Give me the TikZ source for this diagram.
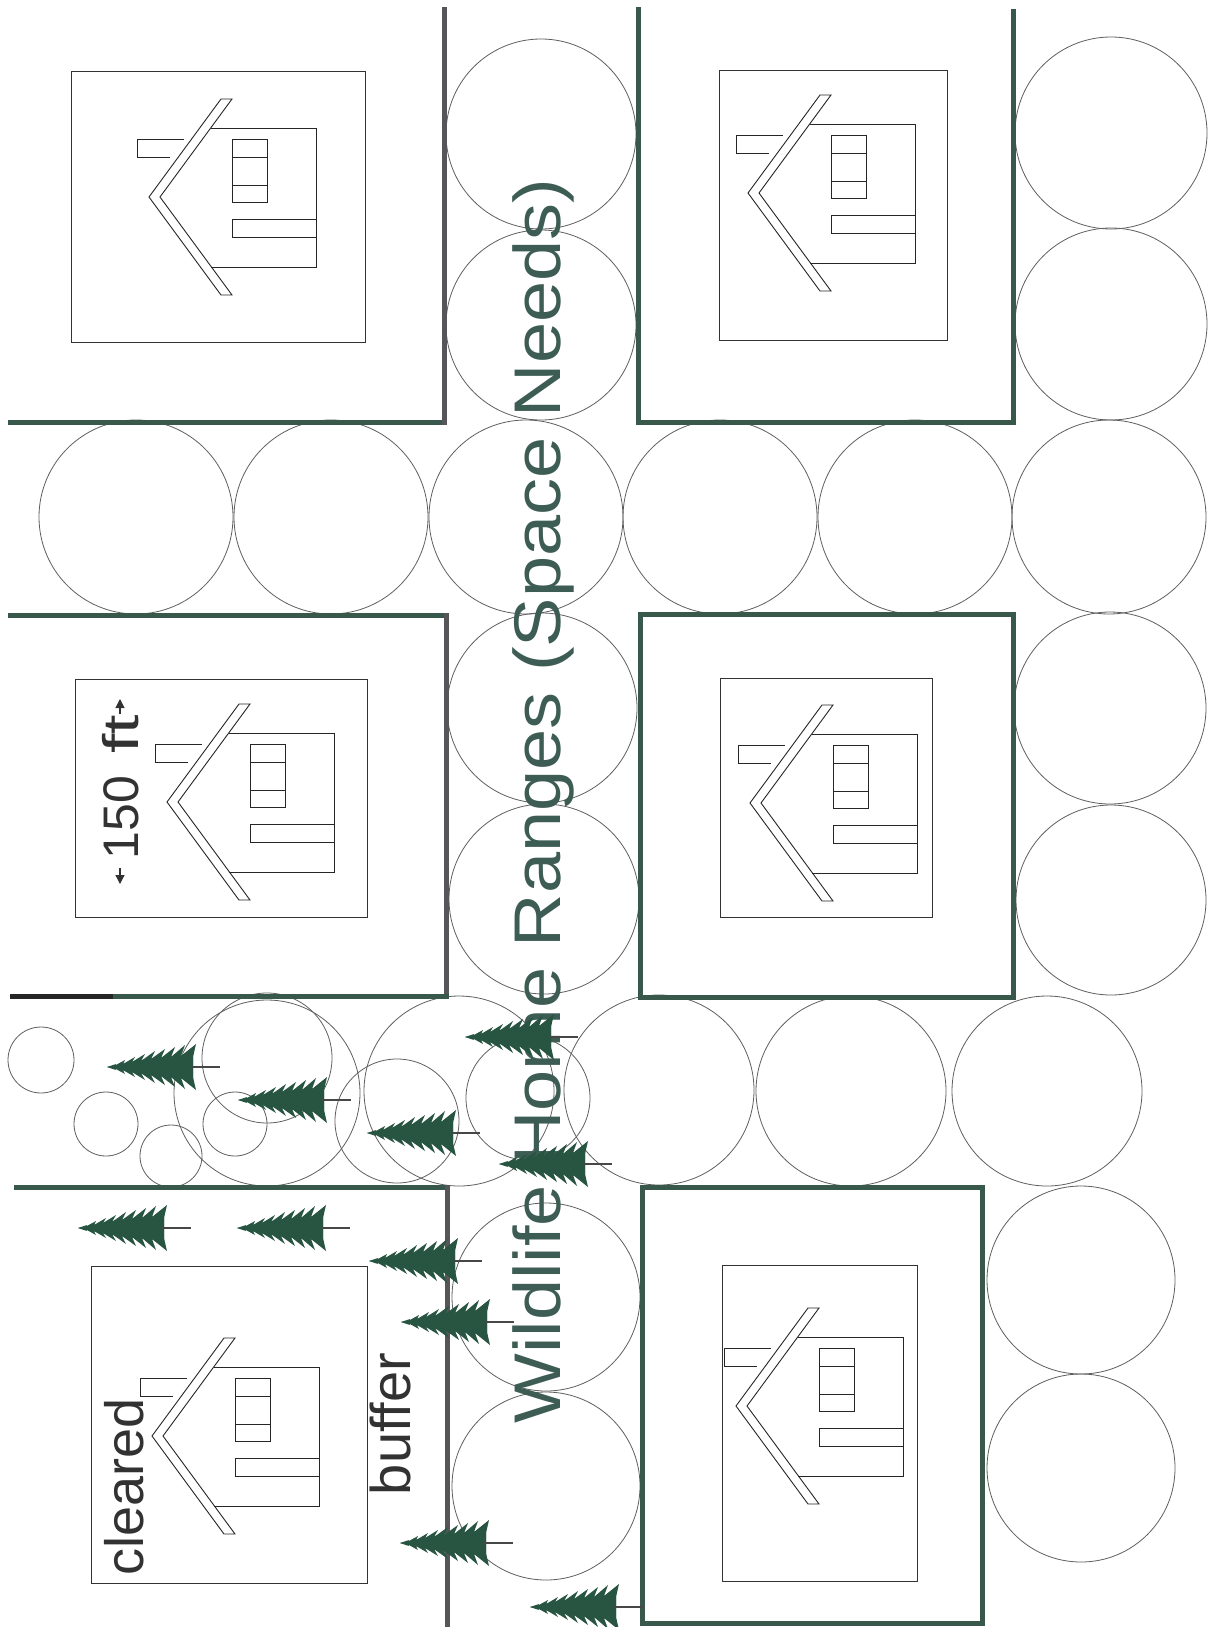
\documentclass[tikz,border=0pt]{standalone}
\usepackage{fontspec}
\setmainfont{Liberation Sans}
\usetikzlibrary{arrows.meta}

\definecolor{wallgreen}{RGB}{56,88,76}
\definecolor{wallgray}{RGB}{86,86,90}
\definecolor{firgreen}{RGB}{40,84,66}
\definecolor{trunkgray}{RGB}{70,72,72}
\definecolor{titlegreen}{RGB}{60,92,84}
\definecolor{rangegray}{RGB}{95,95,95}
\definecolor{labelgray}{RGB}{50,50,50}

\tikzset{
  lotwall/.style={draw=wallgreen, line width=5pt, line cap=rect, line join=miter},
  lotwallside/.style={lotwall, draw=wallgray},
  homerange/.style={draw=rangegray, line width=0.8pt},
  lotline/.style={draw=black!80, line width=0.9pt},
  housepart/.style={draw=black!85, line width=0.9pt, line join=miter},
  lotlabel/.style={text=labelgray, inner sep=0pt, rotate=90, anchor=base},
  headline/.style={text=titlegreen, inner sep=0pt, rotate=90, xscale=1.12, anchor=base,
    font=\fontsize{66}{70}\selectfont},
  dimtip/.style={-{Triangle[length=9pt,width=9pt]}, line width=1.2pt, draw=labelgray, fill=labelgray},
  % house seen from above: origin at the outer corner of the roof
  pics/house/.style={code={
    \draw[housepart] (72,-98) -- (0,0) -- (72,98) -- (83,98) -- (11,0) -- (83,-98) -- cycle;
    \draw[housepart] (61.7,-69) -- (167,-69) -- (167,70) -- (62.4,70);
    \draw[housepart] (34.6,-58) -- (-12,-58) -- (-12,-40) -- (21.4,-40);
    \draw[housepart] (83,-58) rectangle (118,5);
    \draw[housepart] (83,-40) -- (118,-40) (83,-12) -- (118,-12);
    \draw[housepart] (167,22) -- (83,22) -- (83,40) -- (167,40);
  }},
  % fir lying on its side, tip at the origin, trunk to the right
  pics/fir/.style={code={
    \fill[firgreen] (0,0) -- (9,-3) -- (8,-1.5) -- (18,-7) -- (16,-3) -- (28,-10)
      -- (25,-5) -- (38,-13) -- (34,-6) -- (48,-16) -- (44,-8) -- (58,-18)
      -- (54,-9) -- (68,-20) -- (64,-10) -- (78,-22) -- (74,-11) -- (89,-23) -- (86,-10)
      -- (86,10) -- (89,23) -- (74,11) -- (78,22) -- (64,10) -- (68,20) -- (54,9)
      -- (58,18) -- (44,8) -- (48,16) -- (34,6) -- (38,13) -- (25,5) -- (28,10)
      -- (16,3) -- (18,7) -- (8,1.5) -- (9,3) -- cycle;
    \fill[firgreen] (0,0) -- (40,-8) -- (86,-12) -- (86,12) -- (40,8) -- cycle;
    \draw[trunkgray, line width=2.5pt] (84,0) -- (113,0);
  }},
}

\begin{document}
\begin{tikzpicture}[x=1pt, y=-1pt]
\fill[white] (0,0) rectangle (1216,1627);
\useasboundingbox (0,0) rectangle (1216,1627);

% home ranges
\foreach \cx/\cy/\r in {
  541/134/95, 541/325/95,
  136/517/97, 331/517/97, 526/517/97, 720/517/97, 915/517/97, 1109/517/97,
  1111/133/96, 1111/324/96, 1110/708/96, 1111/900/95,
  542/708/95, 544/899/95,
  659/1090/95, 851/1091/95, 1047/1091/95,
  546/1297/94, 546/1486/94, 1081/1280/94, 1081/1468/94,
  41/1060/33, 106/1124/32, 171/1156/31, 235/1124/32,
  267/1093/93, 267/1058/65, 397/1121/62, 459/1091/95, 528/1098/62}
  \draw[homerange] (\cx,\cy) circle[radius=\r pt];

% cleared lots
\draw[lotline] (71,71) rectangle (365,342);
\draw[lotline] (719,70) rectangle (947,340);
\draw[lotline] (75,679) rectangle (367,917);
\draw[lotline] (720,678) rectangle (932,917);
\draw[lotline] (91,1266) rectangle (367,1583);
\draw[lotline] (722,1265) rectangle (917,1581);

% houses
\pic at (149,197) {house};
\pic at (748,193) {house};
\pic at (167,802) {house};
\pic at (750,803) {house};
\pic at (152,1436) {house};
\pic at (736,1406) {house};

% buffer boundaries
\draw[lotwall] (10,422) -- (444,422);
\draw[lotwallside] (444,10) -- (444,422);
\draw[lotwall] (638,10) -- (638,422) -- (1013,422) -- (1013,12);
\draw[lotwall] (10,615) -- (446,615);
\draw[lotwallside] (446,615) -- (446,996);
\draw[lotwall] (446,996) -- (12,996);
\draw[line width=5pt, black!85, line cap=rect] (12,996) -- (110,996);
\draw[lotwall] (640,614) rectangle (1013,997);
\draw[lotwall] (16,1187) -- (447,1187);
\draw[lotwallside] (447,1187) -- (447,1627);
\draw[lotwall] (642,1187) rectangle (982,1623);

% labels
\node[headline] (ranges) at (560,801) {Wildlife Home Ranges (Space Needs)};
\node[lotlabel, font=\fontsize{54}{60}\selectfont] (cleared) at (143,1487) {cleared};
\node[lotlabel, font=\fontsize{56}{60}\selectfont] (buffer) at (410,1424) {buffer};
\node[lotlabel, font=\fontsize{50}{54}\selectfont] (dim) at (138,787)
  {150\hspace{0.45em}\scalebox{1.4}[1]{ft}};

% trees
\foreach \tx/\ty in {107/1067, 238/1100, 367/1133, 465/1037, 499/1164,
  78/1228, 237/1228, 369/1261, 401/1322, 400/1543, 530/1607}
  \pic at (\tx,\ty) {fir};

% dimension arrows
\coordinate (dimlo0) at (120,868);
\coordinate (dimlo) at (120,884);
\coordinate (dimhi0) at (120,714);
\coordinate (dimhi) at (120,699);
\draw[dimtip] (dimlo0) -- (dimlo);
\draw[dimtip] (dimhi0) -- (dimhi);
\end{tikzpicture}
\end{document}
